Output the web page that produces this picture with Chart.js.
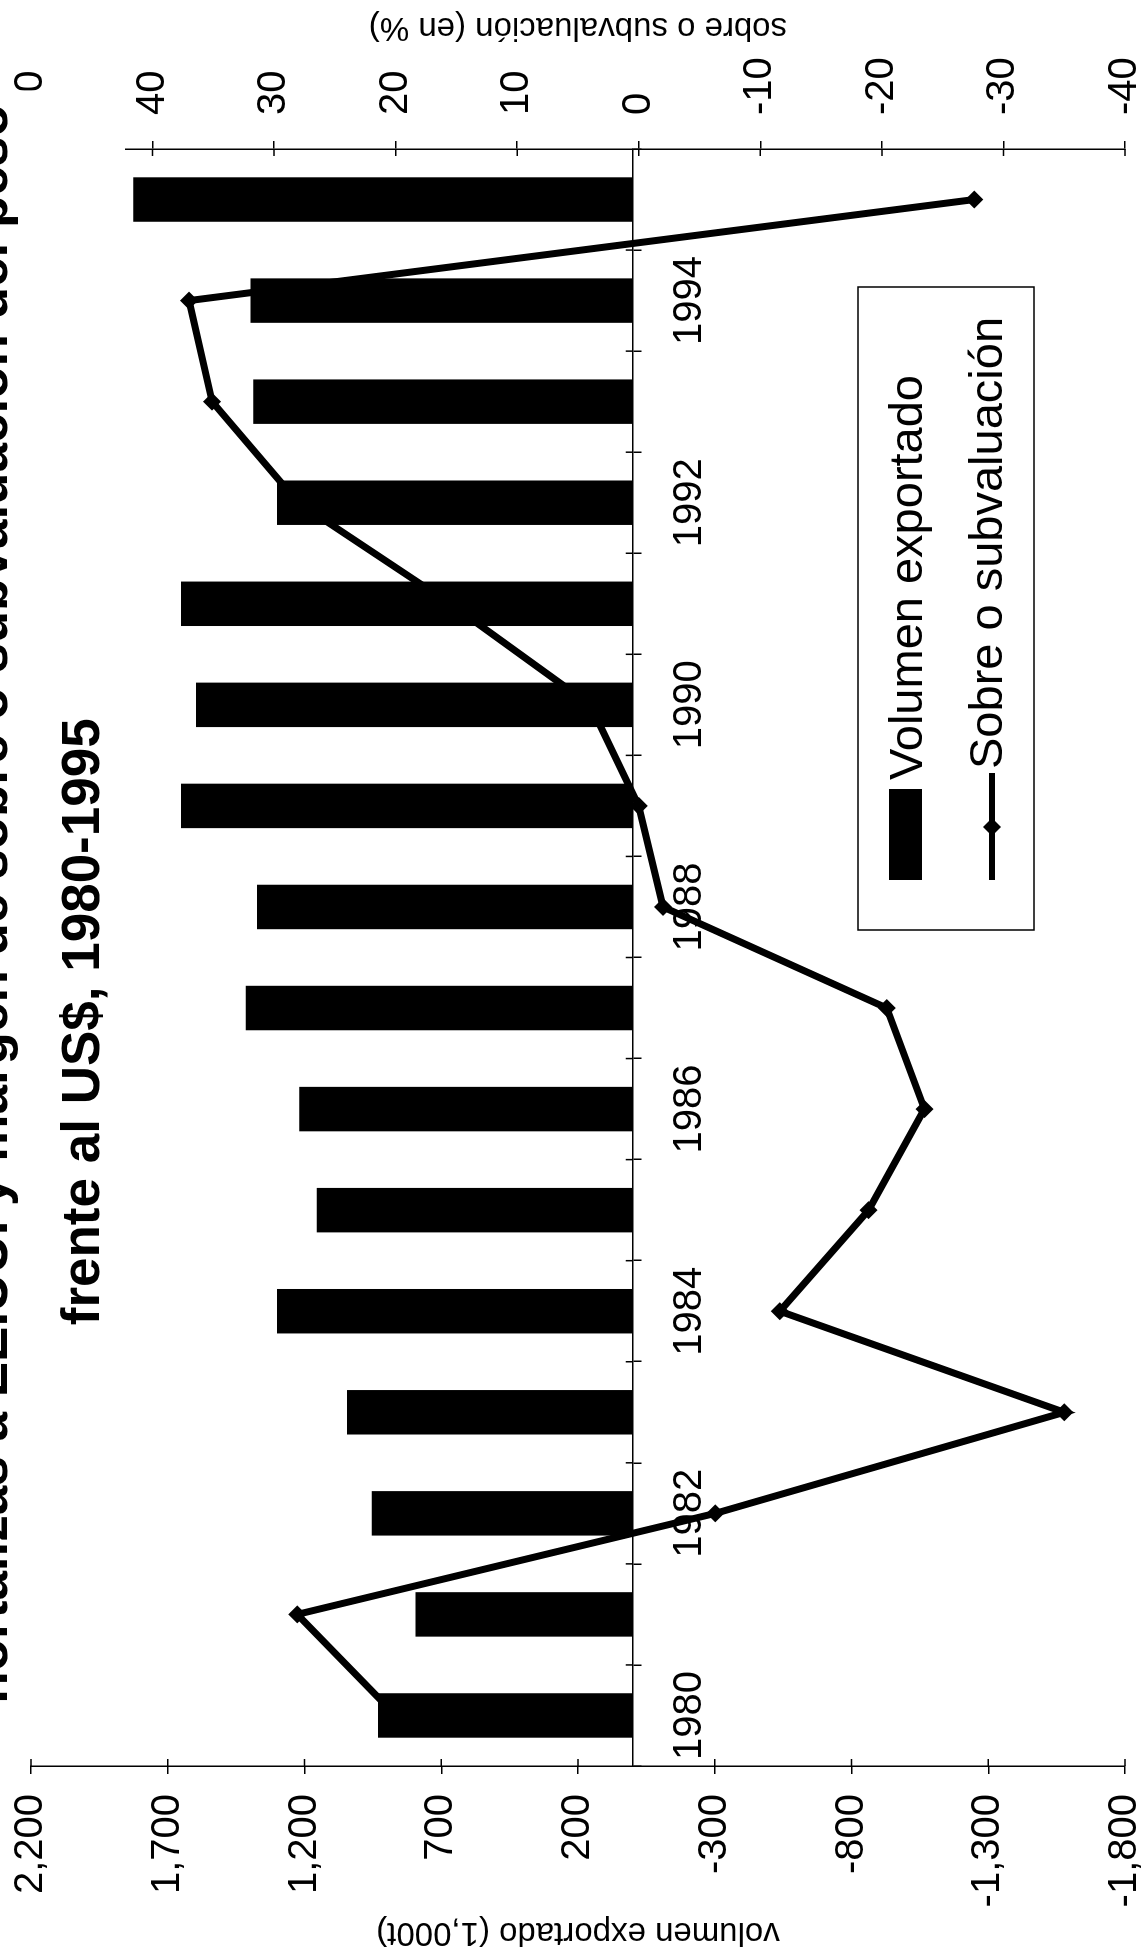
<!DOCTYPE html>
<html lang="es">
<head>
<meta charset="utf-8">
<title>Exportación de hortalizas a EE.UU.</title>
<script src="https://cdn.jsdelivr.net/npm/chart.js@4.4.1/dist/chart.umd.min.js"></script>
<style>
  html, body { margin: 0; padding: 0; background: #fff; width: 1143px; height: 1959px; overflow: hidden; }
  /* the chart is laid out landscape and turned a quarter turn, like the scanned page */
  .sheet {
    position: absolute; left: 0; top: 0;
    width: 2110px; height: 1194px;
    transform-origin: 0 0;
    transform: translate(-19px, 1959px) rotate(-90deg);
  }
</style>
</head>
<body>
<div class="sheet"><canvas id="exportChart" width="2110" height="1194"></canvas></div>
<script>
const years = ['1980', '1981', '1982', '1983', '1984', '1985', '1986', '1987',
  '1988', '1989', '1990', '1991', '1992', '1993', '1994', '1995'];

// volumen exportado, miles de toneladas
const volumen = [931, 794, 954, 1045, 1301, 1155, 1219, 1415,
  1374, 1652, 1597, 1652, 1301, 1387, 1397, 1826];

// sobre o subvaluación del peso, %
const margen = [20, 28.1, -6.3, -35, -11.6, -18.9, -23.5, -20.4,
  -2, 0, 4, 15.5, 28, 35.1, 37, -27.6];

// the second line sits off-centre in the original, hence the trailing blanks
const titleLines = [
  'hortalizas a EE.UU. y margen de sobre o subvaluación del peso',
  'frente al US$, 1980-1995' + ' '.repeat(16),
];
const seriesLabels = ['Volumen exportado', 'Sobre o subvaluación'];
const volumeAxisTitle = 'volumen exportado (1,000t)';
const marginAxisTitle = 'sobre o subvaluación (en %)';
const volumeRange = [-1800, 2200, 500];
const marginRange = [-40, 50, 10];

const FONT = '"Liberation Sans", Arial, Helvetica, sans-serif';
Chart.defaults.font.family = FONT;
Chart.defaults.color = '#000';

// white box behind the title, it hides the axis end it overlaps
const titleMask = {
  id: 'titleMask',
  afterDraw(chart) {
    const block = chart.titleBlock;
    if (!block) return;
    const ctx = chart.ctx;
    ctx.save();
    ctx.font = `bold 53px ${FONT}`;
    const w = Math.max(...titleLines.map((t) => ctx.measureText(t).width));
    const cx = (block.left + block.right) / 2;
    ctx.fillStyle = '#fff';
    ctx.fillRect(cx - w / 2 - 5, 0, w + 19, 144);
    ctx.restore();
    block.draw();
  },
};

// the scanned axes have tick marks that cross the axis line
const innerTicks = {
  id: 'innerTicks',
  beforeDatasetsDraw(chart) {
    const { x, y, y1 } = chart.scales;
    const ctx = chart.ctx;
    const len = 7;
    ctx.save();
    ctx.strokeStyle = '#000';
    ctx.lineWidth = 1.5;
    ctx.beginPath();
    y.ticks.forEach((t) => {
      const p = y.getPixelForValue(t.value);
      ctx.moveTo(y.right, p);
      ctx.lineTo(y.right + len, p);
    });
    y1.ticks.forEach((t) => {
      const p = y1.getPixelForValue(t.value);
      ctx.moveTo(y1.left, p);
      ctx.lineTo(y1.left - len, p);
    });
    const base = y.getPixelForValue(0);
    for (let i = 1; i < years.length; i++) {
      const p = (x.getPixelForTick(i - 1) + x.getPixelForTick(i)) / 2;
      ctx.moveTo(p, base);
      ctx.lineTo(p, base - len);
    }
    ctx.stroke();
    ctx.restore();
  },
};

const marginTitle = {
  id: 'marginTitle',
  afterDraw(chart) {
    const s = chart.scales.y1;
    const ctx = chart.ctx;
    ctx.save();
    ctx.translate(s.left + 122, (s.top + s.bottom) / 2);
    ctx.rotate(-Math.PI / 2);
    ctx.font = `33px ${FONT}`;
    ctx.fillStyle = '#000';
    ctx.textAlign = 'center';
    ctx.textBaseline = 'middle';
    ctx.fillText(marginAxisTitle, 0, 0);
    ctx.restore();
  },
};

const legendBox = {
  id: 'legendBox',
  afterDraw(chart) {
    const ctx = chart.ctx;
    const [bars, line] = chart.data.datasets;
    ctx.save();
    ctx.fillStyle = '#fff';
    ctx.fillRect(1029, 877, 643, 176);
    ctx.strokeStyle = '#000';
    ctx.lineWidth = 1.5;
    ctx.strokeRect(1029, 877, 643, 176);

    ctx.fillStyle = '#000';
    ctx.fillRect(1079, 908, 91, 33);
    ctx.font = `47px ${FONT}`;
    ctx.textBaseline = 'alphabetic';
    ctx.fillText(bars.label, 1179, 941);

    ctx.lineWidth = 6;
    ctx.beginPath();
    ctx.moveTo(1079, 1011);
    ctx.lineTo(1186, 1011);
    ctx.stroke();
    ctx.beginPath();
    ctx.moveTo(1132, 1002);
    ctx.lineTo(1141, 1011);
    ctx.lineTo(1132, 1020);
    ctx.lineTo(1123, 1011);
    ctx.closePath();
    ctx.fill();
    ctx.fillText(line.label, 1190, 1021);
    ctx.restore();
  },
};

new Chart(document.getElementById('exportChart'), {
  data: {
    labels: years,
    datasets: [
      {
        type: 'bar',
        label: seriesLabels[0],
        data: volumen,
        yAxisID: 'y',
        backgroundColor: '#000',
        borderWidth: 0,
        barPercentage: 0.44,
        categoryPercentage: 1,
        order: 0,
      },
      {
        type: 'line',
        label: seriesLabels[1],
        data: margen,
        yAxisID: 'y1',
        borderColor: '#000',
        backgroundColor: '#000',
        borderWidth: 7,
        tension: 0,
        pointStyle: 'rectRot',
        pointRadius: 9,
        pointBorderWidth: 0,
        order: 1,
      },
    ],
  },
  options: {
    responsive: false,
    animation: false,
    layout: { padding: { left: 0, right: 0, top: 0, bottom: 32 } },
    plugins: {
      legend: { display: false },
      tooltip: { enabled: false },
      title: {
        display: true,
        text: titleLines,
        color: '#000',
        font: { size: 53, weight: 'bold', lineHeight: 92 / 53 },
        padding: { top: -55, bottom: -99 },
      },
    },
    scales: {
      x: {
        type: 'category',
        position: { y: 0 },
        offset: true,
        grid: {
          display: true,
          drawOnChartArea: false,
          drawTicks: true,
          tickLength: 8,
          offset: true,
          color: '#000',
          lineWidth: 1.5,
        },
        border: { display: true, color: '#000', width: 1.5 },
        ticks: {
          autoSkip: false,
          maxRotation: 0,
          minRotation: 0,
          padding: 25,
          font: { size: 40 },
          callback: (v, i) => (i % 2 === 0 ? years[i] : ''),
        },
      },
      y: {
        position: 'left',
        min: volumeRange[0],
        max: volumeRange[1],
        afterFit: (scale) => { scale.width = 193; },
        grid: { drawOnChartArea: false, tickLength: 8, color: '#000', lineWidth: 1.5 },
        border: { color: '#000', width: 1.5 },
        ticks: {
          stepSize: volumeRange[2],
          padding: 20,
          font: { size: 40 },
          callback: (v) => Number(v).toLocaleString('en-US'),
        },
        title: {
          display: true,
          text: volumeAxisTitle,
          font: { size: 33 },
          padding: { top: 7, bottom: 0 },
        },
      },
      y1: {
        position: 'right',
        min: marginRange[0],
        max: marginRange[1],
        afterFit: (scale) => { scale.width = 300; },
        grid: { drawOnChartArea: false, tickLength: 8, color: '#000', lineWidth: 1.5 },
        border: { color: '#000', width: 1.5 },
        ticks: {
          stepSize: marginRange[2],
          padding: 26,
          font: { size: 40 },
        },
      },
    },
  },
  plugins: [innerTicks, titleMask, marginTitle, legendBox],
});
</script>
</body>
</html>
